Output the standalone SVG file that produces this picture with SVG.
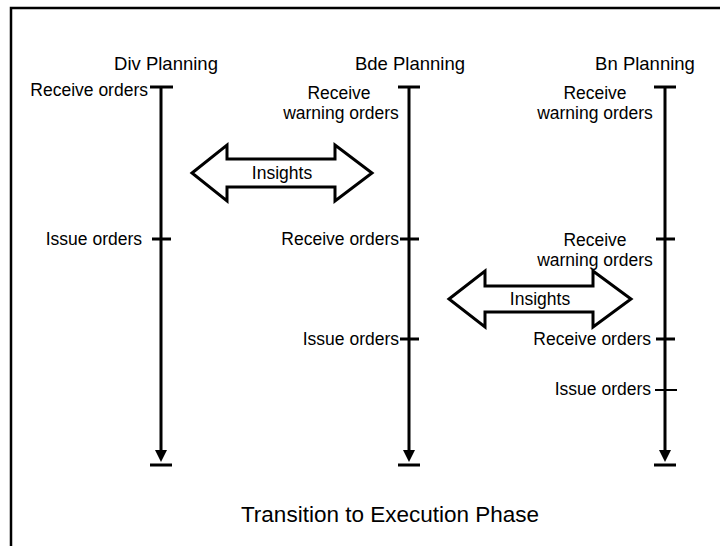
<svg xmlns="http://www.w3.org/2000/svg" width="720" height="546" viewBox="0 0 720 546">
<style>
text{font-family:"Liberation Sans",Arial,sans-serif;fill:#000}
.h{font-size:18.5px;text-anchor:middle}
.l{font-size:17.5px}
.r{text-anchor:end}
.c{text-anchor:middle}
.ln{stroke:#000;stroke-width:3;fill:none}
.tk{stroke:#000;stroke-width:3}
.ar{fill:#fff;stroke:#000;stroke-width:3;stroke-linejoin:miter}
</style>
<rect width="720" height="546" fill="#fff"/>
<path d="M11,546 V8 H720" fill="none" stroke="#000" stroke-width="2.5"/>
<g id="connectors">
<line class="ln" x1="161" y1="87" x2="161" y2="450"/>
<path d="M155,450 L167,450 L161,462 Z"/>
<line class="ln" x1="409" y1="87" x2="409" y2="450"/>
<path d="M403,450 L415,450 L409,462 Z"/>
<line class="ln" x1="665" y1="87" x2="665" y2="450"/>
<path d="M659,450 L671,450 L665,462 Z"/>
</g>
<g id="div">
<text class="h" x="166" y="70">Div Planning</text>
<line class="tk" x1="150" y1="87" x2="173" y2="87"/>
<text class="l r" x="148" y="96">Receive orders</text>
<line class="tk" x1="152" y1="239" x2="171" y2="239"/>
<text class="l r" x="142" y="245">Issue orders</text>
<line class="tk" x1="150" y1="465" x2="172" y2="465"/>
</g>
<g id="bde">
<text class="h" x="410" y="70">Bde Planning</text>
<line class="tk" x1="398" y1="87" x2="420" y2="87"/>
<text class="l c" x="339" y="99">Receive</text>
<text class="l c" x="341" y="119">warning orders</text>
<line class="tk" x1="400" y1="239" x2="419" y2="239"/>
<text class="l r" x="399" y="245">Receive orders</text>
<line class="tk" x1="400" y1="339" x2="419" y2="339"/>
<text class="l r" x="399" y="345">Issue orders</text>
<line class="tk" x1="398" y1="465" x2="420" y2="465"/>
</g>
<g id="bn">
<text class="h" x="645" y="70">Bn Planning</text>
<line class="tk" x1="654" y1="87" x2="676" y2="87"/>
<text class="l c" x="595" y="99">Receive</text>
<text class="l c" x="595" y="119">warning orders</text>
<line class="tk" x1="656" y1="239" x2="675" y2="239"/>
<text class="l c" x="595" y="246">Receive</text>
<text class="l c" x="595" y="266">warning orders</text>
<line class="tk" x1="656" y1="339" x2="675" y2="339"/>
<text class="l r" x="651" y="345">Receive orders</text>
<line x1="655" y1="390" x2="677" y2="390" stroke="#000" stroke-width="2"/>
<text class="l r" x="651" y="395">Issue orders</text>
<line class="tk" x1="654" y1="465" x2="676" y2="465"/>
</g>
<g id="insights1">
<path class="ar" d="M192,173 L227,145 L227,159 L335,159 L335,145 L372,173 L335,201 L335,187 L227,187 L227,201 Z"/>
<text class="l c" x="282" y="179">Insights</text>
</g>
<g id="insights2">
<path class="ar" d="M449,299 L485,271 L485,286 L593,286 L593,271 L631,299 L593,327 L593,312 L485,312 L485,327 Z"/>
<text class="l c" x="540" y="305">Insights</text>
</g>
<g id="footer">
<text x="390" y="522" font-size="22.5" text-anchor="middle">Transition to Execution Phase</text>
</g>
</svg>
